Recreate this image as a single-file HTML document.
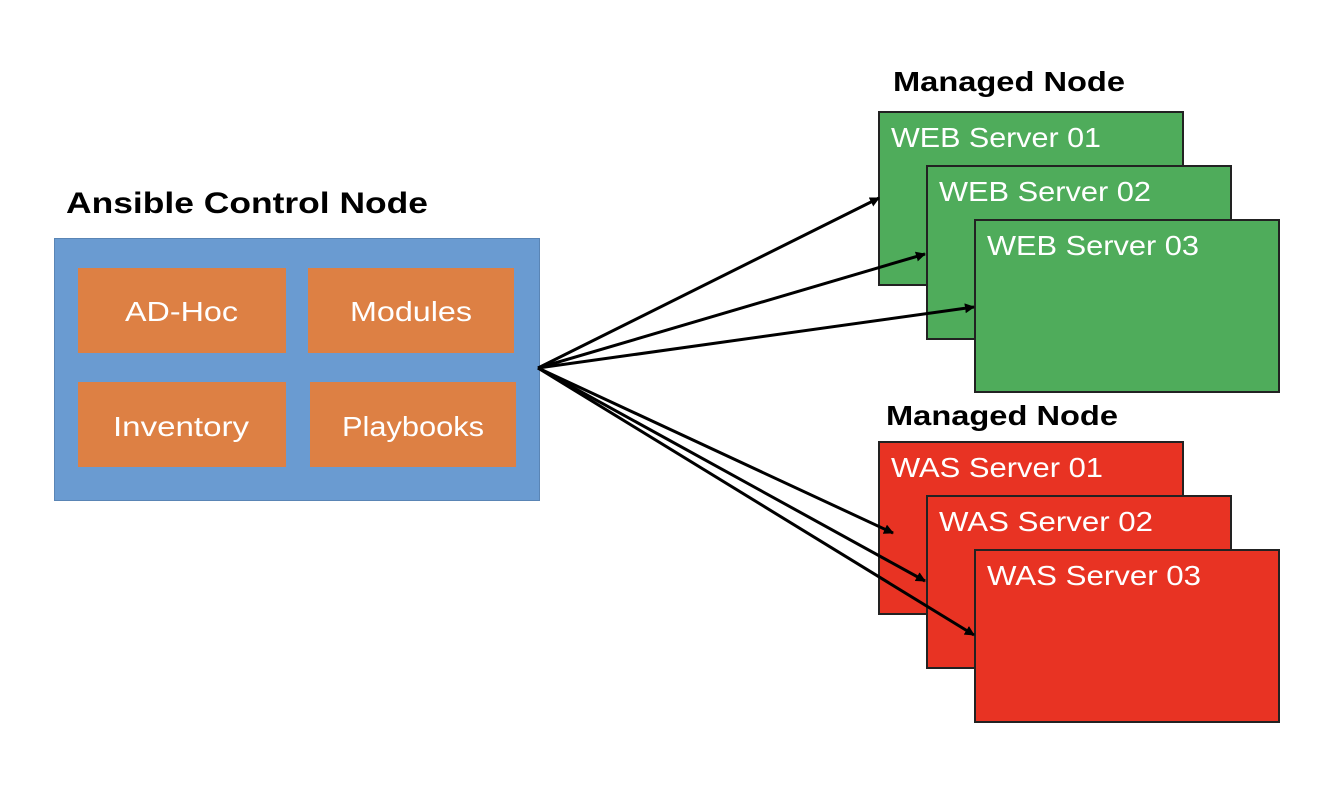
<!DOCTYPE html>
<html><head><meta charset="utf-8"><style>
body{margin:0;background:#fff;width:1342px;height:796px;overflow:hidden;font-family:"Liberation Sans","Noto Sans CJK KR",sans-serif}
</style></head><body>
<svg width="1342" height="796" xmlns="http://www.w3.org/2000/svg" font-family="Liberation Sans, Noto Sans CJK KR, sans-serif">
<defs><marker id="a" markerWidth="10" markerHeight="10" refX="9" refY="5" orient="auto" markerUnits="userSpaceOnUse"><path d="M0,0 L10,5 L0,10 z" fill="#000"/></marker></defs>
<text x="66" y="213" font-size="30" font-weight="bold" fill="#000" textLength="362" lengthAdjust="spacingAndGlyphs">Ansible Control Node</text>
<rect x="54.5" y="238.5" width="485" height="262" fill="#6a9bd1" stroke="#5a85b5"/>
<rect x="78" y="268" width="208" height="85" fill="#dd8044"/>
<rect x="308" y="268" width="206" height="85" fill="#dd8044"/>
<rect x="78" y="382" width="208" height="85" fill="#dd8044"/>
<rect x="310" y="382" width="206" height="85" fill="#dd8044"/>
<g fill="#fff" font-size="28" lengthAdjust="spacingAndGlyphs">
<text x="125" y="321" textLength="113" lengthAdjust="spacingAndGlyphs">AD-Hoc</text>
<text x="350" y="321" textLength="122" lengthAdjust="spacingAndGlyphs">Modules</text>
<text x="113" y="436" textLength="136" lengthAdjust="spacingAndGlyphs">Inventory</text>
<text x="342" y="436" textLength="142" lengthAdjust="spacingAndGlyphs">Playbooks</text></g>
<text x="893" y="91" font-size="28" font-weight="bold" textLength="232" lengthAdjust="spacingAndGlyphs">Managed Node</text>
<text x="886" y="425" font-size="28" font-weight="bold" textLength="232" lengthAdjust="spacingAndGlyphs">Managed Node</text>
<g stroke="#222" stroke-width="2">
<rect x="879" y="112" width="304" height="173" fill="#4fac5b"/>
<rect x="927" y="166" width="304" height="173" fill="#4fac5b"/>
<rect x="975" y="220" width="304" height="172" fill="#4fac5b"/>
<rect x="879" y="442" width="304" height="172" fill="#e83323"/>
<rect x="927" y="496" width="304" height="172" fill="#e83323"/>
<rect x="975" y="550" width="304" height="172" fill="#e83323"/>
</g>
<g fill="#fff" font-size="28">
<text x="891" y="147" textLength="210" lengthAdjust="spacingAndGlyphs">WEB Server 01</text>
<text x="939" y="201" textLength="212" lengthAdjust="spacingAndGlyphs">WEB Server 02</text>
<text x="987" y="255" textLength="212" lengthAdjust="spacingAndGlyphs">WEB Server 03</text>
<text x="891" y="477" textLength="212" lengthAdjust="spacingAndGlyphs">WAS Server 01</text>
<text x="939" y="531" textLength="214" lengthAdjust="spacingAndGlyphs">WAS Server 02</text>
<text x="987" y="585" textLength="214" lengthAdjust="spacingAndGlyphs">WAS Server 03</text></g>
<g stroke="#000" stroke-width="3" marker-end="url(#a)">
<line x1="538" y1="368" x2="879" y2="198"/>
<line x1="538" y1="368" x2="925" y2="254"/>
<line x1="538" y1="368" x2="974" y2="307"/>
<line x1="538" y1="368" x2="893" y2="533"/>
<line x1="538" y1="368" x2="925" y2="581"/>
<line x1="538" y1="368" x2="974" y2="635"/>
</g>
</svg>
</body></html>
